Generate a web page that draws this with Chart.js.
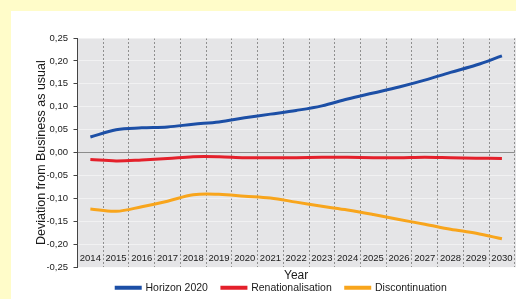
<!DOCTYPE html>
<html>
<head>
<meta charset="utf-8">
<script src="https://cdn.jsdelivr.net/npm/chart.js@4/dist/chart.umd.min.js"></script>
<style>
  html, body { margin: 0; padding: 0; background: #fffcc9; width: 516px; height: 299px; overflow: hidden; }
  #wrap { position: absolute; left: 11px; top: 11px; width: 505px; height: 288px; background: #ffffff; }
</style>
</head>
<body>
<div id="wrap"><canvas id="c" width="505" height="288"></canvas></div>
<script>
const years = ['2014','2015','2016','2017','2018','2019','2020','2021','2022','2023','2024','2025','2026','2027','2028','2029','2030'];
const horizon2020 = [0.034,0.050,0.054,0.056,0.062,0.067,0.076,0.084,0.092,0.102,0.117,0.130,0.143,0.158,0.175,0.191,0.211];
const renationalisation = [-0.015,-0.018,-0.016,-0.013,-0.009,-0.009,-0.011,-0.011,-0.011,-0.010,-0.010,-0.011,-0.011,-0.010,-0.011,-0.012,-0.013];
const discontinuation = [-0.123,-0.128,-0.118,-0.106,-0.092,-0.091,-0.095,-0.099,-0.108,-0.117,-0.125,-0.135,-0.146,-0.156,-0.167,-0.176,-0.188];
const yTicks = [0.25,0.20,0.15,0.10,0.05,0.00,-0.05,-0.10,-0.15,-0.20,-0.25];

const FONT = "'Liberation Sans', Arial, Helvetica, sans-serif";

const bgPlugin = {
  id: 'plotbg',
  beforeDraw(chart) {
    const a = chart.chartArea, ctx = chart.ctx;
    ctx.save();
    ctx.fillStyle = '#e5e5e7';
    ctx.fillRect(a.left, a.top, a.right - a.left + 2, a.bottom - a.top);
    ctx.restore();
  }
};

const fmt = v => (Math.abs(v) < 1e-9 ? 0 : v).toFixed(2).replace('.', ',');

new Chart(document.getElementById('c'), {
  type: 'line',
  data: {
    labels: years,
    datasets: [
      { label: 'Horizon 2020', data: horizon2020, borderColor: '#1c4fa6', backgroundColor: '#1c4fa6' },
      { label: 'Renationalisation', data: renationalisation, borderColor: '#e4202b', backgroundColor: '#e4202b' },
      { label: 'Discontinuation', data: discontinuation, borderColor: '#f8a51c', backgroundColor: '#f8a51c' }
    ]
  },
  options: {
    responsive: false,
    animation: false,
    devicePixelRatio: 1,
    layout: { padding: { top: 27, right: 0, left: 36, bottom: -4 } },
    elements: {
      line: { borderWidth: 3, tension: 0.35 },
      point: { radius: 0 }
    },
    plugins: {
      legend: {
        position: 'bottom',
        labels: {
          font: { family: FONT, size: 10.5 },
          color: '#1a1a1a',
          boxWidth: 24,
          boxHeight: 1,
          padding: 14
        }
      },
      tooltip: { enabled: false }
    },
    scales: {
      x: {
        offset: true,
        border: { display: false, dash: [2, 2] },
        grid: {
          offset: true,
          drawTicks: false,
          color: '#8f8f8f',
          lineWidth: 1
        },
        ticks: {
          mirror: true,
          font: { family: FONT, size: 9.5 },
          color: '#1a1a1a',
          padding: 3.5,
          maxRotation: 0,
          autoSkip: false
        },
        title: {
          display: true,
          text: 'Year',
          font: { family: FONT, size: 12 },
          color: '#1a1a1a',
          padding: { top: 0, bottom: -14.45 }
        },
        afterFit(scale) { scale.height = 1.25; }
      },
      y: {
        min: -0.25,
        max: 0.25,
        border: { display: true, color: '#444', width: 1 },
        grid: {
          drawTicks: true,
          tickLength: 4,
          tickColor: '#444',
          color: ctx => (ctx.tick && Math.abs(ctx.tick.value) < 1e-9) ? '#8c8c8c' : 'rgba(255,255,255,0.45)',
          lineWidth: 1
        },
        afterBuildTicks(scale) { scale.ticks = yTicks.map(v => ({ value: v })); },
        ticks: {
          font: { family: FONT, size: 9.5 },
          color: '#1a1a1a',
          padding: 5.5,
          callback: v => fmt(v)
        },
        title: {
          display: true,
          text: 'Deviation from Business as usual',
          font: { family: FONT, size: 12.5 },
          color: '#1a1a1a',
          padding: { top: -12.5, bottom: 0 }
        },
        afterFit(scale) { scale.width = 30.5; }
      }
    }
  },
  plugins: [bgPlugin]
});
</script>
</body>
</html>
